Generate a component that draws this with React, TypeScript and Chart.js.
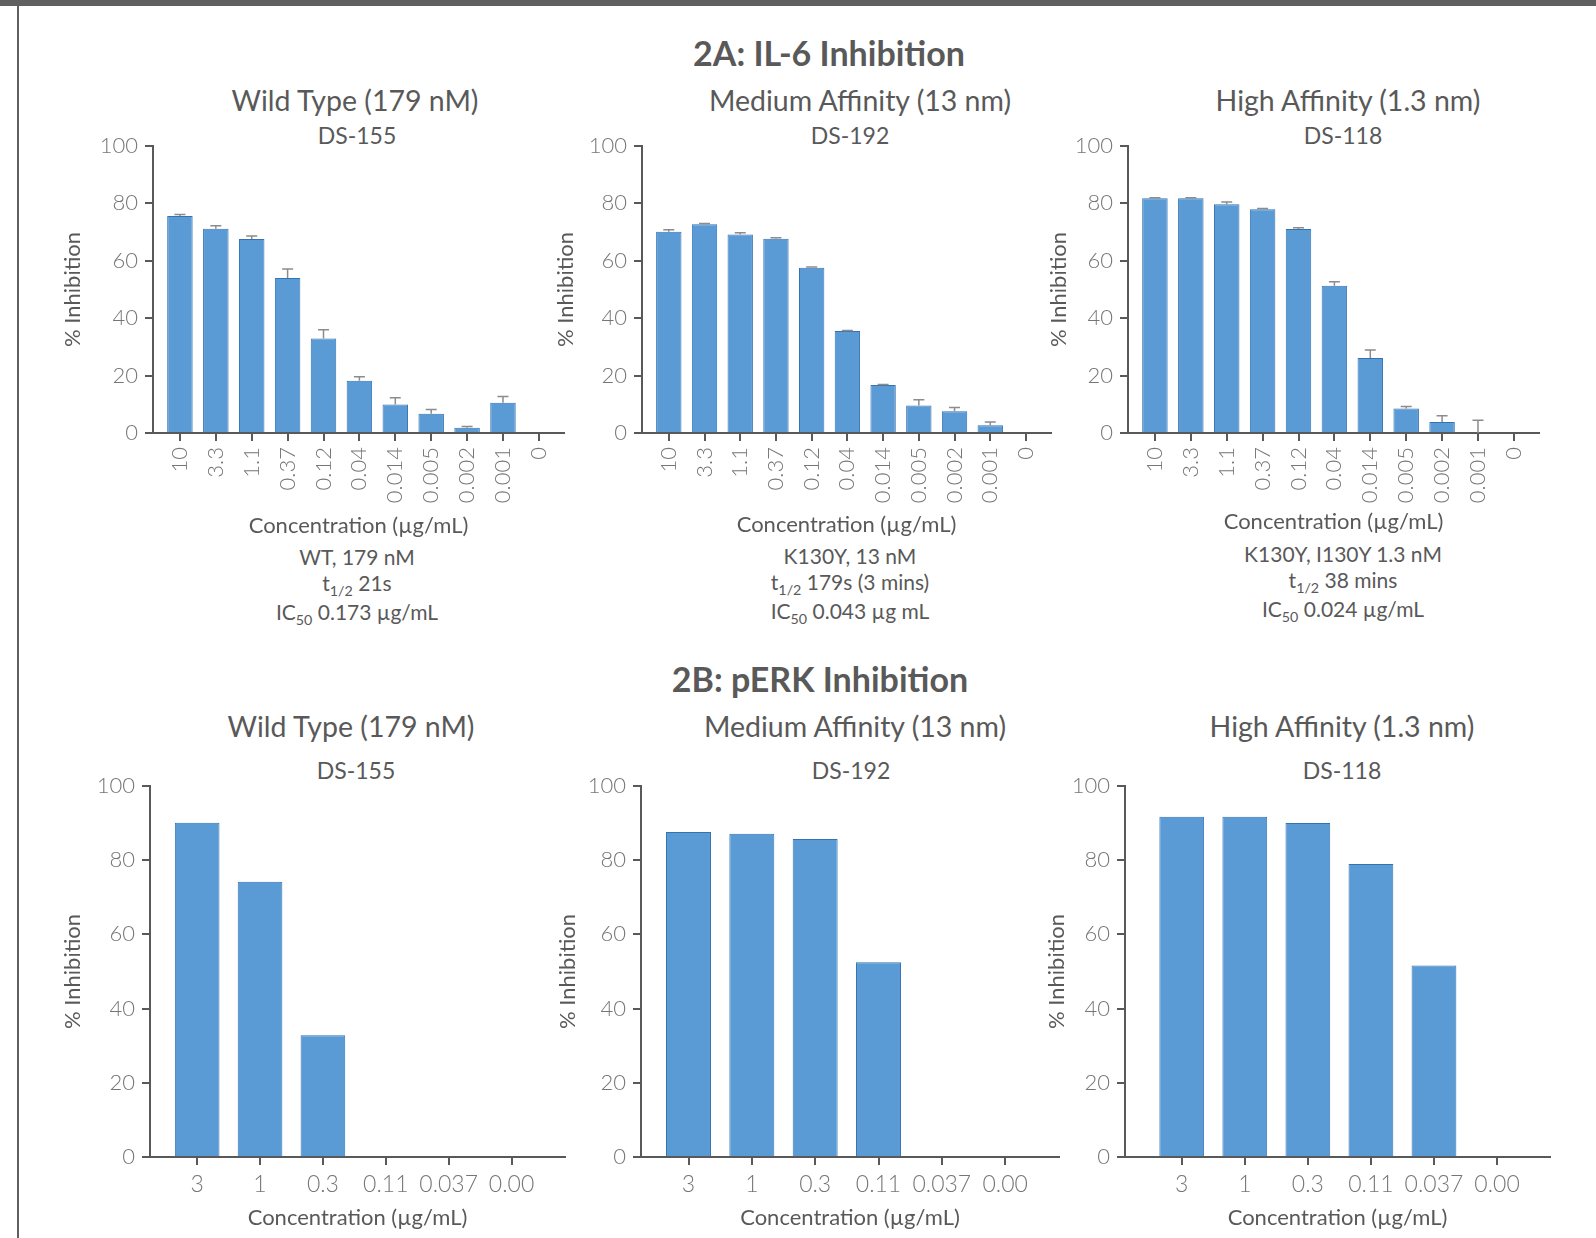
import React, { useEffect, useRef } from "react";
import { Chart, registerables } from "chart.js";

Chart.register(...registerables);

// ---------------- data ----------------
const il6Categories = ["10", "3.3", "1.1", "0.37", "0.12", "0.04", "0.014", "0.005", "0.002", "0.001", "0"];
const il6WildType = [75.6, 71.2, 67.6, 54.0, 32.9, 18.2, 9.9, 6.7, 1.8, 10.5, 0];
const il6WildTypeErr = [0.5, 1.0, 1.0, 3.1, 3.1, 1.4, 2.4, 1.5, 0.5, 2.2, 0];
const il6Medium = [70.1, 72.7, 69.2, 67.7, 57.6, 35.5, 16.7, 9.6, 7.6, 2.7, 0];
const il6MediumErr = [0.7, 0.3, 0.6, 0.3, 0.2, 0.2, 0.2, 2.0, 1.3, 1.1, 0];
const il6High = [81.8, 81.8, 79.7, 78.0, 71.1, 51.3, 26.1, 8.5, 3.8, 0, 0];
const il6HighErr = [0.2, 0.2, 0.8, 0.2, 0.4, 1.4, 2.8, 0.7, 2.2, 4.4, 0];

const perkCategories = ["3", "1", "0.3", "0.11", "0.037", "0.00"];
const perkWildType = [90.1, 74.2, 32.8, 0, 0, 0];
const perkMedium = [87.6, 87.1, 85.7, 52.5, 0, 0];
const perkHigh = [91.7, 91.7, 90.0, 79.0, 51.6, 0];

const yAxisMin = 0;
const yAxisMax = 100;
const yAxisStep = 20;

// ---------------- styles ----------------
const FONT = "Lato, 'Open Sans', 'DejaVu Sans', sans-serif";
const AXIS_COLOR = "#595959";
const TICK_TEXT = "#767676";
const TITLE_COLOR = "#595959";
const BAR_FILL = "#5b9bd5";
const BAR_BORDER = "#3372b3";
const ERR_COLOR = "#8c8c8c";

type PanelLayout = {
  axisX: number;
  plotRight: number;
  y100: number;
  y0: number;
  yTitleX: number;
  xTitleY: number;
  xMin: number;
  xMax: number;
  rotate: boolean;
  tickSize: number;
};

type PanelProps = {
  cats: string[];
  values: number[];
  errors?: number[];
  layout: PanelLayout;
};

const errorBarPlugin = {
  id: "errorBars",
  afterDatasetsDraw(chart: any, _args: any, opts: any) {
    const errs: number[] | undefined = opts && opts.errors;
    if (!errs) return;
    const meta = chart.getDatasetMeta(0);
    const ys = chart.scales.y;
    const ctx = chart.ctx;
    ctx.save();
    ctx.strokeStyle = ERR_COLOR;
    ctx.lineWidth = 1.5;
    meta.data.forEach((bar: any, i: number) => {
      const e = errs[i];
      if (!e) return;
      const v = chart.data.datasets[0].data[i].y;
      const x = bar.x;
      const yTop = ys.getPixelForValue(v + e);
      const yBase = ys.getPixelForValue(v);
      ctx.beginPath();
      ctx.moveTo(x, yBase);
      ctx.lineTo(x, yTop);
      ctx.moveTo(x - 5.5, yTop);
      ctx.lineTo(x + 5.5, yTop);
      ctx.stroke();
    });
    ctx.restore();
  },
};

const PAD_TOP = 30;
const PAD_RIGHT = 12;
const TITLE_FONT = 22;
const TITLE_HALF = (TITLE_FONT * 1.2) / 2;

function Panel({ cats, values, errors, layout }: PanelProps) {
  const ref = useRef<HTMLCanvasElement | null>(null);
  const left = Math.round(layout.yTitleX - TITLE_HALF);
  const top = layout.y100 - PAD_TOP;
  const wy = layout.axisX - left;
  const hx = Math.round(layout.xTitleY + TITLE_HALF - layout.y0);
  const width = layout.plotRight - left + PAD_RIGHT;
  const height = layout.y0 - top + hx;

  useEffect(() => {
    if (!ref.current) return;
    const rot = layout.rotate ? 90 : 0;
    const chart = new Chart(ref.current, {
      type: "bar",
      data: {
        datasets: [
          {
            data: values.map((v, i) => ({ x: i, y: v })),
            backgroundColor: BAR_FILL,
            borderColor: BAR_BORDER,
            borderWidth: 1,
            barPercentage: 0.71,
            categoryPercentage: 1,
          } as any,
        ],
      },
      options: {
        responsive: false,
        animation: false,
        devicePixelRatio: 1,
        layout: { padding: { top: PAD_TOP, right: PAD_RIGHT, left: 0, bottom: 0 } },
        plugins: {
          legend: { display: false },
          tooltip: { enabled: false },
          errorBars: { errors },
        } as any,
        scales: {
          x: {
            type: "linear",
            min: layout.xMin,
            max: layout.xMax,
            bounds: "data",
            offset: false,
            afterBuildTicks: (s: any) => {
              s.ticks = cats.map((_, i) => ({ value: i }));
            },
            afterFit: (s: any) => {
              s.height = hx;
            },
            ticks: {
              autoSkip: false,
              minRotation: rot,
              maxRotation: rot,
              padding: 6,
              color: TICK_TEXT,
              font: { family: FONT, size: layout.tickSize, weight: "300" },
              callback: (_v: any, i: number) => cats[i],
            },
            grid: {
              display: true,
              offset: false,
              drawOnChartArea: false,
              drawTicks: true,
              tickLength: 8,
              color: AXIS_COLOR,
              lineWidth: 2,
            },
            border: { display: true, color: AXIS_COLOR, width: 2 },
            title: {
              display: true,
              text: "Concentration (µg/mL)",
              color: TITLE_COLOR,
              font: { family: FONT, size: TITLE_FONT },
              padding: 0,
            },
          },
          y: {
            min: yAxisMin,
            max: yAxisMax,
            afterFit: (s: any) => {
              s.width = wy;
            },
            ticks: {
              stepSize: yAxisStep,
              padding: 7,
              color: TICK_TEXT,
              font: { family: FONT, size: 22, weight: "300" },
            },
            grid: {
              display: true,
              drawOnChartArea: false,
              drawTicks: true,
              tickLength: 8,
              color: AXIS_COLOR,
              lineWidth: 2,
            },
            border: { display: true, color: AXIS_COLOR, width: 2 },
            title: {
              display: true,
              text: "% Inhibition",
              color: TITLE_COLOR,
              font: { family: FONT, size: TITLE_FONT },
              padding: 0,
            },
          },
        },
      } as any,
      plugins: [errorBarPlugin],
    });
    return () => chart.destroy();
  }, []);

  return (
    <canvas
      ref={ref}
      width={width}
      height={height}
      style={{ position: "absolute", left, top, width, height }}
    />
  );
}

function Txt({ x, y, size, bold, children }: any) {
  return (
    <div
      style={{
        position: "absolute",
        left: x,
        top: y,
        transform: "translate(-50%, -50%)",
        whiteSpace: "nowrap",
        fontSize: size,
        fontWeight: bold ? 700 : 400,
        color: TITLE_COLOR,
        lineHeight: 1,
        fontFamily: FONT,
      }}
    >
      {children}
    </div>
  );
}

const subStyle: React.CSSProperties = { fontSize: "0.68em", verticalAlign: "-0.3em" };

const topLayouts: PanelLayout[] = [
  { axisX: 153, plotRight: 564, y100: 146, y0: 433, yTitleX: 73, xTitleY: 526, xMin: -0.75, xMax: 10.7, rotate: true, tickSize: 22 },
  { axisX: 642, plotRight: 1051, y100: 146, y0: 433, yTitleX: 566, xTitleY: 525, xMin: -0.75, xMax: 10.7, rotate: true, tickSize: 22 },
  { axisX: 1128, plotRight: 1539, y100: 146, y0: 433, yTitleX: 1059, xTitleY: 522, xMin: -0.75, xMax: 10.7, rotate: true, tickSize: 22 },
];
const bottomLayouts: PanelLayout[] = [
  { axisX: 150, plotRight: 565, y100: 786, y0: 1157, yTitleX: 73, xTitleY: 1218, xMin: -0.75, xMax: 5.85, rotate: false, tickSize: 23 },
  { axisX: 641, plotRight: 1059, y100: 786, y0: 1157, yTitleX: 568, xTitleY: 1218, xMin: -0.75, xMax: 5.85, rotate: false, tickSize: 23 },
  { axisX: 1125, plotRight: 1550, y100: 786, y0: 1157, yTitleX: 1057, xTitleY: 1218, xMin: -0.9, xMax: 5.84, rotate: false, tickSize: 23 },
];

export default function App() {
  return (
    <div
      style={{
        position: "absolute",
        left: 0,
        top: 0,
        width: 1596,
        height: 1238,
        background: "#ffffff",
        overflow: "hidden",
        fontFamily: FONT,
      }}
    >
      <div style={{ position: "absolute", left: 0, top: 0, width: 1596, height: 6, background: "#606060" }} />
      <div style={{ position: "absolute", left: 17, top: 0, width: 2, height: 1238, background: "#606060" }} />

      <Txt x={829} y={53} size={34} bold>2A: IL-6 Inhibition</Txt>
      <Txt x={820} y={679} size={34} bold>2B: pERK Inhibition</Txt>

      <Txt x={355} y={100} size={28.5}>Wild Type (179 nM)</Txt>
      <Txt x={860} y={100} size={28.5}>Medium Affinity (13 nm)</Txt>
      <Txt x={1348} y={100} size={28.5}>High Affinity (1.3 nm)</Txt>
      <Txt x={357} y={135} size={23}>DS-155</Txt>
      <Txt x={850} y={135} size={23}>DS-192</Txt>
      <Txt x={1343} y={135} size={23}>DS-118</Txt>

      <Panel cats={il6Categories} values={il6WildType} errors={il6WildTypeErr} layout={topLayouts[0]} />
      <Panel cats={il6Categories} values={il6Medium} errors={il6MediumErr} layout={topLayouts[1]} />
      <Panel cats={il6Categories} values={il6High} errors={il6HighErr} layout={topLayouts[2]} />

      <Txt x={357} y={556} size={21}>WT, 179 nM</Txt>
      <Txt x={357} y={585} size={21}>t<span style={subStyle}>1/2</span> 21s</Txt>
      <Txt x={357} y={614} size={21}>IC<span style={subStyle}>50</span> 0.173 µg/mL</Txt>

      <Txt x={850} y={555} size={21}>K130Y, 13 nM</Txt>
      <Txt x={850} y={584} size={21}>t<span style={subStyle}>1/2</span> 179s (3 mins)</Txt>
      <Txt x={850} y={613} size={21}>IC<span style={subStyle}>50</span> 0.043 µg mL</Txt>

      <Txt x={1343} y={553} size={21}>K130Y, I130Y 1.3 nM</Txt>
      <Txt x={1343} y={582} size={21}>t<span style={subStyle}>1/2</span> 38 mins</Txt>
      <Txt x={1343} y={611} size={21}>IC<span style={subStyle}>50</span> 0.024 µg/mL</Txt>

      <Txt x={351} y={726} size={28.5}>Wild Type (179 nM)</Txt>
      <Txt x={855} y={726} size={28.5}>Medium Affinity (13 nm)</Txt>
      <Txt x={1342} y={726} size={28.5}>High Affinity (1.3 nm)</Txt>
      <Txt x={356} y={770} size={23}>DS-155</Txt>
      <Txt x={851} y={770} size={23}>DS-192</Txt>
      <Txt x={1342} y={770} size={23}>DS-118</Txt>

      <Panel cats={perkCategories} values={perkWildType} layout={bottomLayouts[0]} />
      <Panel cats={perkCategories} values={perkMedium} layout={bottomLayouts[1]} />
      <Panel cats={perkCategories} values={perkHigh} layout={bottomLayouts[2]} />
    </div>
  );
}
